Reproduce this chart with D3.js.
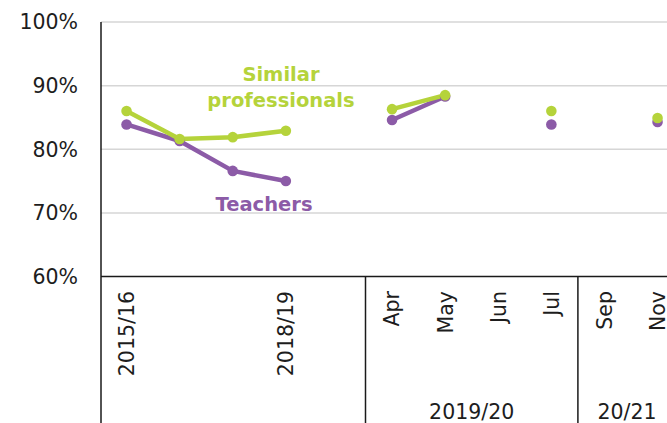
<!DOCTYPE html>
<html><head><meta charset="utf-8">
<script src="https://cdn.jsdelivr.net/npm/d3@7"></script>
<style>
html,body{margin:0;padding:0;background:#fff;overflow:hidden;}
svg{display:block;}
</style></head>
<body>
<svg id="chart" width="667" height="423"></svg>
<script>
// ---- data ----
const categories = ["2015/16","2016/17","2017/18","2018/19","gap","Apr","May","Jun","Jul","Sep","Nov"];
const tickLabels = ["2015/16","","","2018/19","","Apr","May","Jun","Jul","Sep","Nov"];
const teachers = [83.9, 81.3, 76.6, 75.0, null, 84.6, 88.3, null, 83.9, null, 84.3];
const similar  = [86.0, 81.6, 81.9, 82.9, null, 86.3, 88.5, null, 86.0, null, 84.9];
const groups = [
  {label:"", from:"2015/16", to:"gap"},
  {label:"2019/20", from:"Apr", to:"Jul"},
  {label:"20/21", from:"Sep", to:"Nov"}
];
const yTicks = [60,70,80,90,100];
const seriesLabels = {similar:["Similar","professionals"], teachers:["Teachers"]};

// ---- styles ----
const green = "#b5d33b", purple = "#8c5ba7";
const font = "DejaVu Sans";

const svg = d3.select("#chart");
const pLeft = 101, pTop = 22, pBottom = 276.5, pRight = 667;
const step = 53.1, x0 = 100;

const x = d3.scaleBand().domain(categories).range([x0, x0 + step*categories.length]).padding(0);
const y = d3.scaleLinear().domain([60,100]).range([pBottom, pTop]);
const cx = c => x(c) + x.bandwidth()/2;

// gridlines
svg.append("g").selectAll("line").data(yTicks.filter(d=>d>60)).join("line")
  .attr("x1", pLeft).attr("x2", pRight)
  .attr("y1", d=>y(d)).attr("y2", d=>y(d))
  .attr("stroke", "#d6d6d6").attr("stroke-width", 1.5);

// y tick labels
svg.append("g").selectAll("text").data(yTicks).join("text")
  .attr("x", 78).attr("y", d=>y(d)).attr("dy", "0.36em")
  .attr("text-anchor", "end")
  .attr("font-family", font).attr("font-size", 20.5).attr("fill", "#1d1d1d")
  .text(d=>d+"%");

// axes lines
svg.append("line").attr("x1", pLeft).attr("x2", pRight).attr("y1", pBottom).attr("y2", pBottom)
  .attr("stroke", "#1a1a1a").attr("stroke-width", 1.5);
svg.append("line").attr("x1", pLeft).attr("x2", pLeft).attr("y1", pTop).attr("y2", 423)
  .attr("stroke", "#1a1a1a").attr("stroke-width", 1.5);

// group separators & labels
groups.forEach((g,i) => {
  const gx0 = x(g.from), gx1 = x(g.to) + x.bandwidth();
  if (i > 0) {
    svg.append("line").attr("x1", gx0).attr("x2", gx0).attr("y1", pBottom).attr("y2", 423)
      .attr("stroke", "#1a1a1a").attr("stroke-width", 1.5);
  }
  if (g.label) {
    svg.append("text").attr("x", (gx0+gx1)/2 - (i === 2 ? 4 : 0)).attr("y", 419)
      .attr("text-anchor", "middle")
      .attr("font-family", font).attr("font-size", 20.5).attr("fill", "#1d1d1d")
      .text(g.label);
  }
});

// rotated category labels
svg.append("g").selectAll("text").data(categories.map((c,i)=>({c, t:tickLabels[i]})).filter(d=>d.t)).join("text")
  .attr("transform", d=>`translate(${cx(d.c)},291) rotate(-90)`)
  .attr("dy", "0.36em")
  .attr("text-anchor", "end")
  .attr("font-family", font).attr("font-size", 20.5).attr("fill", "#1d1d1d")
  .text(d=>d.t);

// series
const line = d3.line().defined(d=>d.v!=null).x(d=>cx(d.c)).y(d=>y(d.v));
const series = [
  {name:"teachers", vals:teachers, color:purple},
  {name:"similar", vals:similar, color:green}
];
series.forEach(s => {
  const pts = categories.map((c,i)=>({c, v:s.vals[i]}));
  svg.append("path").datum(pts).attr("d", line)
    .attr("fill","none").attr("stroke", s.color).attr("stroke-width", 4.5)
    .attr("stroke-linejoin","round").attr("stroke-linecap","round");
});
series.forEach(s => {
  const pts = categories.map((c,i)=>({c, v:s.vals[i]})).filter(d=>d.v!=null);
  svg.append("g").selectAll("circle").data(pts).join("circle")
    .attr("cx", d=>cx(d.c)).attr("cy", d=>y(d.v)).attr("r", 5.3)
    .attr("fill", s.color);
});

// series labels
svg.append("text").attr("x", 281).attr("y", 81)
  .attr("text-anchor","middle").attr("font-family", font).attr("font-weight","bold")
  .attr("font-size", 19.5).attr("fill", green)
  .selectAll("tspan").data(seriesLabels.similar).join("tspan")
  .attr("x", 281).attr("dy", (d,i)=> i ? 26 : 0).text(d=>d);
svg.append("text").attr("x", 264).attr("y", 211)
  .attr("text-anchor","middle").attr("font-family", font).attr("font-weight","bold")
  .attr("font-size", 19.5).attr("fill", purple)
  .text(seriesLabels.teachers[0]);
</script>
</body></html>
